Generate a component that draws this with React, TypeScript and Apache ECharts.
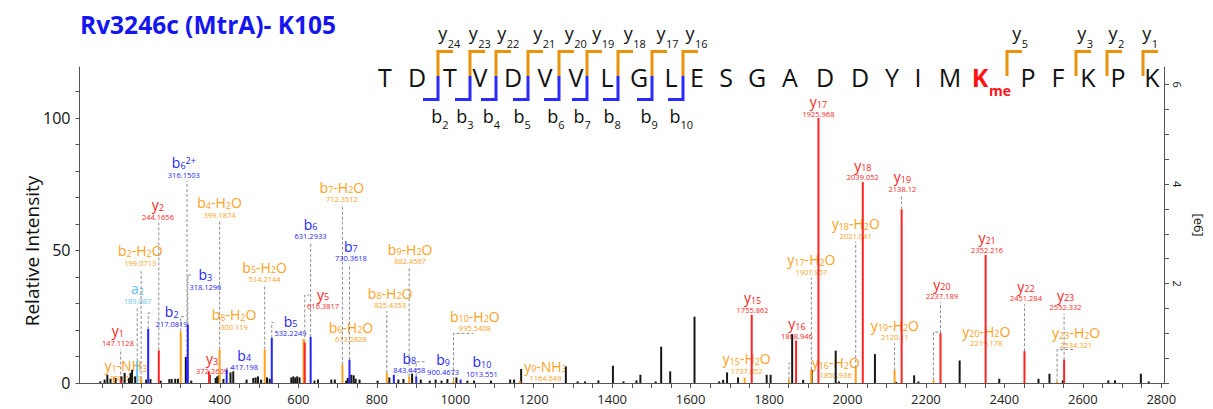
import React, { useEffect, useRef } from "react";
import * as echarts from "echarts";

// ---------------- data ----------------
const chartTitle = "Rv3246c (MtrA)- K105";
const yAxisTitle = "Relative Intensity";
const rightAxisUnit = "[e6]";
const basePeakAbsolute = 5.33; // x10^6 counts that correspond to 100 %

const xTickLabels = [200, 400, 600, 800, 1000, 1200, 1400, 1600, 1800, 2000, 2200, 2400, 2600, 2800];
const xTicks = Array.from({ length: 55 }, (_, i) => 100 + i * 50);
const leftTickLabels = [0, 50, 100];
const leftTicks = [0, 10, 20, 30, 40, 50, 60, 70, 80, 90, 100, 110];
const rightTickLabels = [2, 4, 6];
const rightTicks = [0, 0.5, 1, 1.5, 2, 2.5, 3, 3.5, 4, 4.5, 5, 5.5, 6];

const sequence = ["T", "D", "T", "V", "D", "V", "V", "L", "G", "L", "E", "S", "G", "A", "D", "D", "Y", "I", "M", "K", "P", "F", "K", "P", "K"];
const modifiedResidue = 19;
const modificationLabel = "me";
const bIonNumbers = [2, 3, 4, 5, 6, 7, 8, 9, 10];
const bIonSites = [2, 3, 4, 5, 6, 7, 8, 9, 10];
const yIonNumbers = [24, 23, 22, 21, 20, 19, 18, 17, 16, 5, 3, 2, 1];
const yIonSites = [2, 3, 4, 5, 6, 7, 8, 9, 10, 20, 22, 23, 24];

const ionNames = ["y1", "y1-NH3", "a2", "b2-H2O", "b2", "y2", "b6^2+", "b3", "b8-H2O", "b4-H2O", "y3", "b4", "b5-H2O", "b5", "b6", "y5", "b6-H2O", "b7-H2O", "b7", "b8-H2O", "b9-H2O", "b8", "b9", "b10-H2O", "b10", "y9-NH3", "y15-H2O", "y15", "y16", "y16-H2O", "y17-H2O", "y17", "y18-H2O", "y18", "y19-H2O", "y19", "y20-H2O", "y20", "y21", "y22", "y23-H2O", "y23"];
const ionMz = [147.1128, 130.0863, 189.087, 199.0713, 217.0819, 244.1656, 316.1503, 318.1296, 300.119, 399.1874, 372.2609, 417.198, 514.2144, 532.2249, 631.2933, 616.3817, 613.2828, 712.3512, 730.3618, 825.4353, 882.4567, 843.4458, 900.4673, 995.5408, 1013.551, 1164.649, 1737.852, 1755.862, 1868.946, 1850.936, 1907.957, 1925.968, 2021.041, 2039.052, 2120.11, 2138.12, 2219.178, 2237.189, 2352.216, 2451.284, 2534.321, 2552.332];
const ionIntensity = [1.3, 2.5, 8.2, 1.5, 20.4, 12.3, 9.8, 22, 19.5, 12.6, 4.4, 5, 12.6, 17, 17.4, 15.3, 16.6, 6.9, 8.8, 3.8, 2.5, 3.1, 2.5, 1, 1.3, 0.8, 2, 25.7, 16, 1.3, 5, 100, 5.7, 75.8, 4.8, 65.5, 1, 18.8, 48.3, 12, 0.5, 8.8];

const noiseMz = [95, 106, 113, 121, 134, 149, 157, 168, 172, 176, 184, 212, 223, 249, 271, 277, 286, 293, 313, 327, 374, 389, 393, 398, 409, 427, 434, 468, 485, 491, 497, 505, 520, 527, 582, 587, 592, 597, 603, 641, 650, 684, 693, 722, 726, 735, 741, 746, 756, 802, 832, 855, 868, 890, 912, 935, 950, 965, 980, 1003, 1031, 1048, 1091, 1140, 1150, 1168, 1282, 1312, 1331, 1365, 1402, 1429, 1462, 1472, 1511, 1525, 1548, 1610, 1673, 1683, 1693, 1721, 1794, 1804, 1859, 1887, 1909, 1970, 1978, 2070, 2124, 2170, 2181, 2286, 2387, 2487, 2515, 2549, 2665, 2682, 2748, 2768];
const noiseIntensity = [0.6, 1.3, 3.1, 1.6, 1.9, 2.5, 3.8, 1.9, 3.8, 5.0, 2.5, 1.3, 1.5, 0.9, 1.5, 1.5, 1.6, 1.6, 9.8, 0.9, 3.1, 1.9, 2.5, 2.9, 1.5, 4.0, 4.4, 1.3, 1.9, 2.1, 2.5, 1.3, 2.1, 1.6, 2.1, 2.5, 2.1, 2.5, 2.1, 0.9, 1.3, 1.3, 1.3, 0.9, 1.9, 3.1, 2.9, 1.6, 1.3, 0.9, 2.1, 1.3, 1.5, 3.5, 1.3, 0.9, 1.3, 0.9, 1.5, 2.1, 0.9, 0.9, 0.9, 1.3, 1.3, 5.3, 6.2, 0.6, 0.6, 1.0, 6.5, 0.6, 1.0, 3.1, 0.6, 13.7, 4.4, 25, 0.6, 1.2, 4.0, 2.1, 3.1, 3.1, 18.4, 1.2, 5.0, 12.2, 0.6, 10.9, 0.4, 2.9, 0.6, 8.5, 1.6, 1.6, 3.5, 1.0, 1.0, 1.0, 3.5, 0.6];

// ---------------- layout (label placement, in axis units) ----------------
const labelAnchorMz = [140, 160, 190, 197, 277, 242, 308, 363, 436, 399, 380, 462, 514, 580, 631, 663, 734, 711, 734, 834, 885, 883, 969, 1050, 1068, 1230, 1743, 1758, 1871, 1970, 1908, 1926, 2021, 2039, 2121, 2140, 2354, 2241, 2356, 2455, 2583, 2556];
const labelAnchorLevel = [15.1, 1.9, 31, 45.3, 22.3, 62.8, 78.6, 36.3, 21.2, 63.4, 4.6, 5.9, 39.1, 18.7, 55.3, 29, 16.5, 69.3, 47, 29.4, 46, 4.9, 4.3, 20.6, 3.4, 1.8, 4.6, 27.7, 17.8, 3.1, 42, 101.5, 55.6, 77.7, 17.3, 73.2, 15, 32.7, 50.2, 31.9, 14.4, 28.5];
const labelLeader: any[] = ["v", null, "v", "v", [26.4, 228], "v", "v", [40.7, 326], [25, 313], "v", null, [5.6, 440], "v", [22.8, 537], "v", [33.2, 628], null, "v", "v", "v", "v", null, [8, 925], [18.7, 1046], null, null, null, null, null, [7.5, 1862], "v", null, "v", null, "v", "v", [19.2, 2231], "v", null, "v", [12.6, 2581], "v"];

// sequence layout (pixels)
const letterX = [385, 417, 450, 480, 513, 545, 576, 607, 639, 671, 697, 726, 757, 790, 825, 860, 892, 918, 950, 980, 1028, 1058, 1088, 1118, 1152];
const siteX: Record<number, number> = { 2: 438, 3: 470, 4: 496, 5: 528, 6: 559, 7: 587, 8: 618, 9: 652, 10: 683, 20: 1007, 22: 1076, 23: 1107, 24: 1143 };
const bLabelX = [436.7, 461.7, 488.3, 519, 552.7, 579, 609, 646, 675];
const yLabelX = [442.7, 473.3, 501.7, 537.7, 569.3, 596.7, 628.3, 661, 690, 1016.7, 1081.7, 1113, 1146.7];

// ---------------- styles ----------------
const FONT = '"Open Sans", "Noto Sans", sans-serif';
const COLORS: Record<string, string> = {
  y: "#ff2424",
  b: "#2424ff",
  loss: "#ffa11c",
  a: "#66c2ee",
  noise: "#161616",
};
const X_MIN = 42;
const X_MAX = 2807;
const Y_MAX = 119.2;

function ionType(name: string) {
  if (name.includes("-")) return "loss";
  return name[0];
}

function toRich(name: string) {
  const [main, sup] = name.split("^");
  const parts = main
    .split(/(\d+)/)
    .filter((t) => t.length > 0)
    .map((t) => (/^\d+$/.test(t) ? `{s|${t}}` : `{n|${t}}`))
    .join("");
  return sup ? parts + `{p|${sup}}` : parts;
}

function richFor(color: string) {
  return {
    n: { fontSize: 14, fontFamily: FONT, fill: color, color },
    s: { fontSize: 9, fontFamily: FONT, fill: color, color, verticalAlign: "bottom" },
    p: { fontSize: 9, fontFamily: FONT, fill: color, color, verticalAlign: "top" },
  };
}

function barSeries(name: string, data: number[][], color: string, z: number) {
  return {
    type: "custom",
    name,
    coordinateSystem: "cartesian2d",
    silent: true,
    z,
    data,
    encode: { x: 0, y: 1 },
    renderItem: (_params: any, api: any) => {
      const p0 = api.coord([api.value(0), 0]);
      const p1 = api.coord([api.value(0), api.value(1)]);
      return {
        type: "rect",
        shape: { x: p0[0] - 1, y: p1[1], width: 2, height: Math.max(p0[1] - p1[1], 0.6) },
        style: { fill: color },
      };
    },
  };
}

function buildOption() {
  const byType: Record<string, number[][]> = { y: [], b: [], loss: [], a: [] };
  ionNames.forEach((n, i) => byType[ionType(n)].push([ionMz[i], ionIntensity[i]]));
  const noiseData = noiseMz.map((m, i) => [m, noiseIntensity[i]]);

  const dash = { stroke: "#8c8c8c", lineWidth: 1, lineDash: [3, 2], fill: null };

  const labelSeries = {
    type: "custom",
    name: "labels",
    coordinateSystem: "cartesian2d",
    silent: true,
    z: 1,
    data: labelAnchorMz.map((m, i) => [m, labelAnchorLevel[i], i]),
    encode: { x: 0, y: 1 },
    renderItem: (params: any, api: any) => {
      const i = params.dataIndex;
      const color = COLORS[ionType(ionNames[i])];
      const top = api.coord([ionMz[i], ionIntensity[i]]);
      const anchor = api.coord([labelAnchorMz[i], labelAnchorLevel[i]]);
      const children: any[] = [];
      const lead = labelLeader[i];
      if (lead === "v") {
        const yEnd = anchor[1] + 6;
        if (top[1] - yEnd > 2) {
          children.push({ type: "polyline", shape: { points: [[top[0], top[1]], [top[0], yEnd]] }, style: dash });
        }
      } else if (Array.isArray(lead)) {
        const b = api.coord([lead[1], lead[0]]);
        children.push({
          type: "polyline",
          shape: { points: [[top[0], top[1]], [top[0], b[1]], [b[0], b[1]]] },
          style: dash,
        });
      }
      children.push({
        type: "text",
        x: anchor[0],
        y: anchor[1] - 12,
        style: {
          text: toRich(ionNames[i]),
          rich: richFor(color),
          fontSize: 14,
          fontFamily: FONT,
          fill: color,
          align: "center",
          verticalAlign: "middle",
        },
      });
      children.push({
        type: "text",
        x: anchor[0],
        y: anchor[1],
        style: {
          text: String(ionMz[i]),
          fontSize: 7.5,
          fontFamily: FONT,
          fill: color,
          align: "center",
          verticalAlign: "middle",
        },
      });
      return { type: "group", children };
    },
  };

  // ---- graphic: title, y title, peptide sequence ----
  const g: any[] = [];
  const txt = (x: number, y: number, text: string, extra: any, rotation = 0) => ({
    type: "text",
    x,
    y,
    rotation,
    silent: true,
    style: {
      text,
      fontFamily: FONT,
      align: "center",
      verticalAlign: "middle",
      textAlign: "center",
      textVerticalAlign: "middle",
      fill: "#111",
      ...extra,
    },
  });
  g.push(txt(80, 24, chartTitle, { fontSize: 24.5, fontWeight: "bold", fill: "#1515f0", align: "left", textAlign: "left" }));
  g.push(txt(32, 251, yAxisTitle, { fontSize: 19 }, Math.PI / 2));

  sequence.forEach((aa, i) => {
    const mod = i === modifiedResidue;
    g.push(txt(letterX[i], 77, aa, { fontSize: 25, fontWeight: mod ? "bold" : "normal", fill: mod ? "#ff1414" : "#111" }));
  });
  g.push(txt(989, 90, modificationLabel, { fontSize: 14, fontWeight: "bold", fill: "#ff1414", align: "left", textAlign: "left" }));

  bIonNumbers.forEach((n, k) => {
    const sx = siteX[bIonSites[k]];
    g.push({
      type: "polyline",
      silent: true,
      shape: { points: [[sx - 15, 99.5], [sx, 99.5], [sx, 76]] },
      style: { stroke: "#2a2aff", lineWidth: 3, fill: null },
    });
    g.push(txt(bLabelX[k], 116, "b", { fontSize: 18 }));
    g.push(txt(bLabelX[k] + 5.5, 124, String(n), { fontSize: 11, align: "left", textAlign: "left" }));
  });
  yIonNumbers.forEach((n, k) => {
    const sx = siteX[yIonSites[k]];
    g.push({
      type: "polyline",
      silent: true,
      shape: { points: [[sx, 76], [sx, 51.5], [sx + 15, 51.5]] },
      style: { stroke: "#e8920e", lineWidth: 3, fill: null },
    });
    g.push(txt(yLabelX[k], 33, "y", { fontSize: 18 }));
    g.push(txt(yLabelX[k] + 5, 43, String(n), { fontSize: 11, align: "left", textAlign: "left" }));
  });

  const axisLine = { show: true, lineStyle: { color: "#555", width: 1 } };

  return {
    animation: false,
    backgroundColor: "#ffffff",
    textStyle: { fontFamily: FONT },
    grid: { left: 79.5, right: 39, top: 67, bottom: 26, containLabel: false },
    xAxis: {
      type: "value",
      min: X_MIN,
      max: X_MAX,
      axisLine,
      axisTick: { show: true, length: 5, lineStyle: { color: "#555" }, customValues: xTicks },
      axisLabel: {
        customValues: xTickLabels,
        color: "#222",
        fontSize: 13,
        fontFamily: FONT,
        margin: 9,
        formatter: (v: number) => String(v),
      },
      splitLine: { show: false },
    },
    yAxis: [
      {
        type: "value",
        position: "left",
        min: 0,
        max: Y_MAX,
        axisLine,
        axisTick: { show: true, length: 4, lineStyle: { color: "#555" }, customValues: leftTicks },
        axisLabel: { customValues: leftTickLabels, color: "#111", fontSize: 16, fontFamily: FONT, margin: 9 },
        splitLine: { show: false },
      },
      {
        type: "value",
        position: "right",
        min: 0,
        max: (Y_MAX * basePeakAbsolute) / 100,
        axisLine,
        axisTick: { show: true, length: 5, lineStyle: { color: "#555" }, customValues: rightTicks },
        axisLabel: { customValues: rightTickLabels, color: "#111", fontSize: 11, fontFamily: FONT, rotate: -90, margin: 8 },
        name: rightAxisUnit,
        nameLocation: "middle",
        nameRotate: -90,
        nameGap: 28,
        nameTextStyle: { fontSize: 13, color: "#111", fontFamily: FONT },
        splitLine: { show: false },
      },
    ],
    graphic: { elements: g },
    series: [
      labelSeries,
      barSeries("noise", noiseData, COLORS.noise, 2),
      barSeries("a ions", byType.a, COLORS.a, 3),
      barSeries("neutral losses", byType.loss, COLORS.loss, 3),
      barSeries("b ions", byType.b, COLORS.b, 4),
      barSeries("y ions", byType.y, COLORS.y, 4),
    ],
  };
}

export default function App() {
  const ref = useRef<HTMLDivElement>(null);
  useEffect(() => {
    if (!ref.current) return;
    const chart = echarts.init(ref.current, undefined, { renderer: "svg" });
    chart.setOption(buildOption() as any);
    return () => chart.dispose();
  }, []);
  return (
    <div
      ref={ref}
      style={{ position: "fixed", left: 0, top: 0, width: 1213, height: 409, background: "#fff" }}
    />
  );
}
